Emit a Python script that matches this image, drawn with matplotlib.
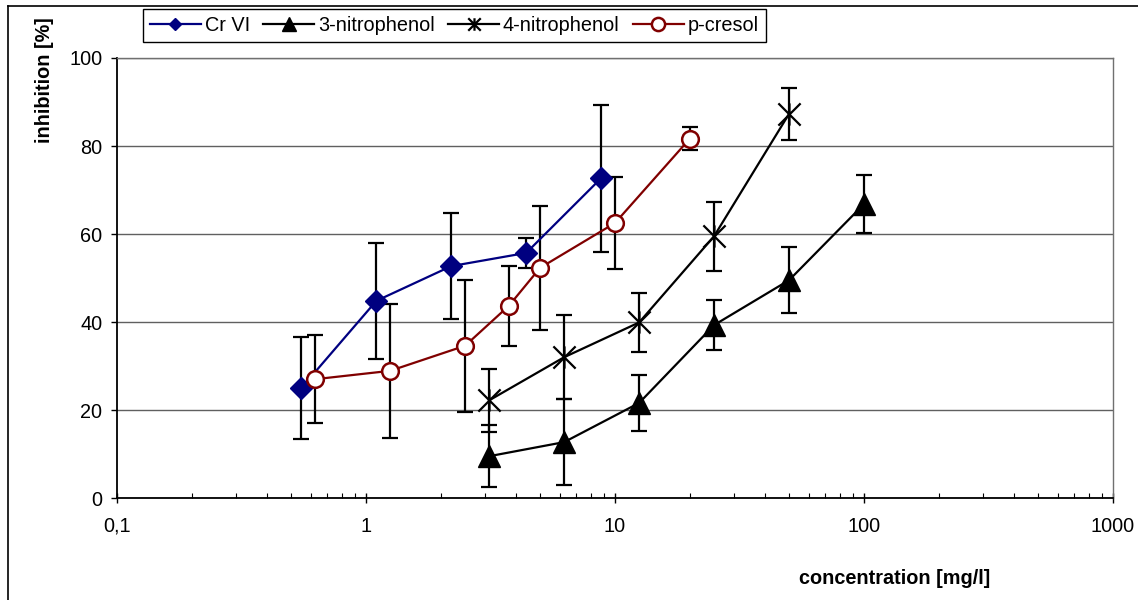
import matplotlib
matplotlib.use("Agg")
import matplotlib.pyplot as plt
from matplotlib.path import Path
from matplotlib.lines import Line2D
from matplotlib.ticker import FixedLocator, FixedFormatter, LogLocator, NullFormatter

plt.rcParams["font.family"] = ["Liberation Sans", "DejaVu Sans"]

# ---- data ----
cr_x = [0.55, 1.1, 2.2, 4.4, 8.8]
cr_y = [25.0, 44.8, 52.7, 55.7, 72.7]
cr_err = [11.5, 13.2, 12.0, 3.4, 16.7]

n3_x = [3.125, 6.25, 12.5, 25, 50, 100]
n3_y = [9.5, 12.7, 21.6, 39.3, 49.5, 66.8]
n3_err = [7.0, 9.8, 6.4, 5.7, 7.5, 6.6]

n4_x = [3.125, 6.25, 12.5, 25, 50]
n4_y = [22.2, 32.0, 39.9, 59.5, 87.3]
n4_err = [7.2, 9.5, 6.7, 7.8, 5.9]

pc_x = [0.625, 1.25, 2.5, 3.75, 5, 10, 20]
pc_y = [27.0, 28.9, 34.6, 43.7, 52.3, 62.5, 81.7]
pc_err = [10.0, 15.2, 15.0, 9.1, 14.1, 10.5, 2.7]

x_ticks = [0.1, 1, 10, 100, 1000]
x_labels = ["0,1", "1", "10", "100", "1000"]
y_ticks = [0, 20, 40, 60, 80, 100]

NAVY = "#000080"
DARKRED = "#800000"
FS = 14.3

# Excel style "star" marker: X with a vertical bar
star = Path([(-1, -1), (1, 1), (-1, 1), (1, -1), (0, -1), (0, 1)],
            [Path.MOVETO, Path.LINETO, Path.MOVETO, Path.LINETO, Path.MOVETO, Path.LINETO])

fig = plt.figure(figsize=(11.38, 6), dpi=100, facecolor="white")
ax = fig.add_axes([117 / 1138, 102 / 600, 996 / 1138, 440 / 600])

# label, x, y, err, colour, marker style, plot size, legend size
series = [
    ("Cr VI", cr_x, cr_y, cr_err, NAVY, dict(marker="D", mfc=NAVY, mec=NAVY, mew=1), 11.5, 6.5),
    ("3-nitrophenol", n3_x, n3_y, n3_err, "black", dict(marker="^", mfc="black", mec="black", mew=1), 16, 10),
    ("4-nitrophenol", n4_x, n4_y, n4_err, "black", dict(marker=star, mfc="none", mec="black", mew=1.6), 16, 9),
    ("p-cresol", pc_x, pc_y, pc_err, DARKRED, dict(marker="o", mfc="white", mec=DARKRED, mew=1.8), 12, 9.5),
]

handles = []
for label, xs, ys, es, col, mk, ms, ms_leg in series:
    ax.errorbar(xs, ys, yerr=es, fmt="none", ecolor="black", elinewidth=1.6,
                capsize=5.5, capthick=1.6, zorder=3)
    ax.plot(xs, ys, color=col, lw=1.6, zorder=4, ms=ms, **mk)
    handles.append(Line2D([], [], color=col, lw=1.6, ms=ms_leg, label=label, **mk))

ax.set_xscale("log")
ax.set_xlim(0.1, 1000)
ax.set_ylim(0, 100)

ax.xaxis.set_major_locator(FixedLocator(x_ticks))
ax.xaxis.set_major_formatter(FixedFormatter(x_labels))
ax.xaxis.set_minor_locator(LogLocator(base=10, subs=range(2, 10), numticks=20))
ax.xaxis.set_minor_formatter(NullFormatter())
ax.set_yticks(y_ticks)

ax.tick_params(axis="x", which="major", direction="inout", length=7, width=1,
               pad=10, labelsize=FS)
ax.tick_params(axis="x", which="minor", direction="in", length=3.5, width=0.8)
ax.tick_params(axis="y", which="major", direction="out", length=4.5, width=1,
               pad=6, labelsize=FS)

ax.yaxis.grid(True, color="#606060", lw=1.0)
ax.set_axisbelow(True)
for s in ("left", "bottom"):
    ax.spines[s].set_color("black")
    ax.spines[s].set_linewidth(1.3)
for s in ("top", "right"):
    ax.spines[s].set_color("#707070")
    ax.spines[s].set_linewidth(1.0)

fig.text(45 / 1138, 1 - 80 / 600, "inhibition [%]", rotation=90, ha="center",
         va="center", fontsize=FS, fontweight="bold")
fig.text(895 / 1138, 1 - 578 / 600, "concentration [mg/l]", ha="center",
         va="center", fontsize=FS, fontweight="bold")

leg = fig.legend(handles=handles, loc="upper left", bbox_to_anchor=(143 / 1138, 1 - 9 / 600),
                 ncol=4, fontsize=FS, frameon=True, fancybox=False, framealpha=1,
                 edgecolor="black", borderaxespad=0, handlelength=2.55, handletextpad=0.2,
                 columnspacing=0.68, borderpad=0.36)
leg.get_frame().set_linewidth(1.0)

# outer chart frame (partially visible in the reference)
fig.add_artist(Line2D([8 / 1138, 8 / 1138], [0, 1 - 6 / 600], color="black", lw=1.2))
fig.add_artist(Line2D([8 / 1138, 1], [1 - 6 / 600, 1 - 6 / 600], color="black", lw=1.2))

fig.savefig("out.png", dpi=100, facecolor="white")
